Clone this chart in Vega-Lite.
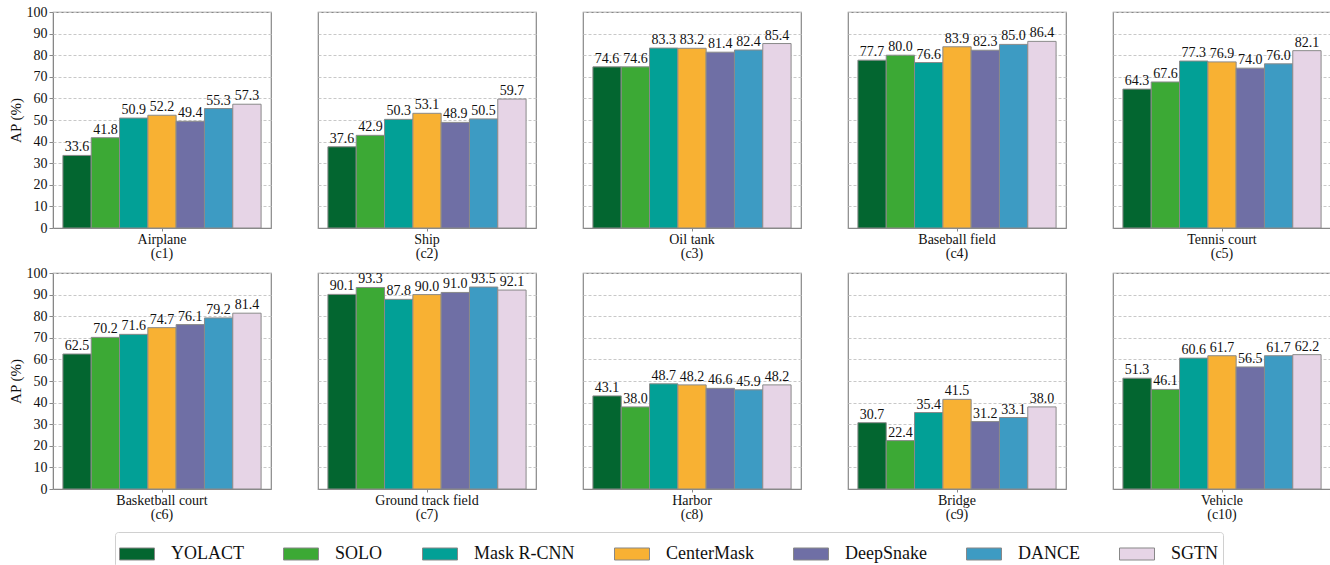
{
  "$schema": "https://vega.github.io/schema/vega-lite/v6.json",
  "padding": {"left": 8, "top": 5, "right": 2, "bottom": 0},
  "bounds": "flush",
  "spacing": {"column": 47, "row": 45},
  "columns": 5,
  "data": {
    "values": [
      {"cat": "Airplane (c1)", "method": "YOLACT", "ap": 33.6},
      {"cat": "Airplane (c1)", "method": "SOLO", "ap": 41.8},
      {"cat": "Airplane (c1)", "method": "Mask R-CNN", "ap": 50.9},
      {"cat": "Airplane (c1)", "method": "CenterMask", "ap": 52.2},
      {"cat": "Airplane (c1)", "method": "DeepSnake", "ap": 49.4},
      {"cat": "Airplane (c1)", "method": "DANCE", "ap": 55.3},
      {"cat": "Airplane (c1)", "method": "SGTN", "ap": 57.3},
      {"cat": "Ship (c2)", "method": "YOLACT", "ap": 37.6},
      {"cat": "Ship (c2)", "method": "SOLO", "ap": 42.9},
      {"cat": "Ship (c2)", "method": "Mask R-CNN", "ap": 50.3},
      {"cat": "Ship (c2)", "method": "CenterMask", "ap": 53.1},
      {"cat": "Ship (c2)", "method": "DeepSnake", "ap": 48.9},
      {"cat": "Ship (c2)", "method": "DANCE", "ap": 50.5},
      {"cat": "Ship (c2)", "method": "SGTN", "ap": 59.7},
      {"cat": "Oil tank (c3)", "method": "YOLACT", "ap": 74.6},
      {"cat": "Oil tank (c3)", "method": "SOLO", "ap": 74.6},
      {"cat": "Oil tank (c3)", "method": "Mask R-CNN", "ap": 83.3},
      {"cat": "Oil tank (c3)", "method": "CenterMask", "ap": 83.2},
      {"cat": "Oil tank (c3)", "method": "DeepSnake", "ap": 81.4},
      {"cat": "Oil tank (c3)", "method": "DANCE", "ap": 82.4},
      {"cat": "Oil tank (c3)", "method": "SGTN", "ap": 85.4},
      {"cat": "Baseball field (c4)", "method": "YOLACT", "ap": 77.7},
      {"cat": "Baseball field (c4)", "method": "SOLO", "ap": 80.0},
      {"cat": "Baseball field (c4)", "method": "Mask R-CNN", "ap": 76.6},
      {"cat": "Baseball field (c4)", "method": "CenterMask", "ap": 83.9},
      {"cat": "Baseball field (c4)", "method": "DeepSnake", "ap": 82.3},
      {"cat": "Baseball field (c4)", "method": "DANCE", "ap": 85.0},
      {"cat": "Baseball field (c4)", "method": "SGTN", "ap": 86.4},
      {"cat": "Tennis court (c5)", "method": "YOLACT", "ap": 64.3},
      {"cat": "Tennis court (c5)", "method": "SOLO", "ap": 67.6},
      {"cat": "Tennis court (c5)", "method": "Mask R-CNN", "ap": 77.3},
      {"cat": "Tennis court (c5)", "method": "CenterMask", "ap": 76.9},
      {"cat": "Tennis court (c5)", "method": "DeepSnake", "ap": 74.0},
      {"cat": "Tennis court (c5)", "method": "DANCE", "ap": 76.0},
      {"cat": "Tennis court (c5)", "method": "SGTN", "ap": 82.1},
      {"cat": "Basketball court (c6)", "method": "YOLACT", "ap": 62.5},
      {"cat": "Basketball court (c6)", "method": "SOLO", "ap": 70.2},
      {"cat": "Basketball court (c6)", "method": "Mask R-CNN", "ap": 71.6},
      {"cat": "Basketball court (c6)", "method": "CenterMask", "ap": 74.7},
      {"cat": "Basketball court (c6)", "method": "DeepSnake", "ap": 76.1},
      {"cat": "Basketball court (c6)", "method": "DANCE", "ap": 79.2},
      {"cat": "Basketball court (c6)", "method": "SGTN", "ap": 81.4},
      {"cat": "Ground track field (c7)", "method": "YOLACT", "ap": 90.1},
      {"cat": "Ground track field (c7)", "method": "SOLO", "ap": 93.3},
      {"cat": "Ground track field (c7)", "method": "Mask R-CNN", "ap": 87.8},
      {"cat": "Ground track field (c7)", "method": "CenterMask", "ap": 90.0},
      {"cat": "Ground track field (c7)", "method": "DeepSnake", "ap": 91.0},
      {"cat": "Ground track field (c7)", "method": "DANCE", "ap": 93.5},
      {"cat": "Ground track field (c7)", "method": "SGTN", "ap": 92.1},
      {"cat": "Harbor (c8)", "method": "YOLACT", "ap": 43.1},
      {"cat": "Harbor (c8)", "method": "SOLO", "ap": 38.0},
      {"cat": "Harbor (c8)", "method": "Mask R-CNN", "ap": 48.7},
      {"cat": "Harbor (c8)", "method": "CenterMask", "ap": 48.2},
      {"cat": "Harbor (c8)", "method": "DeepSnake", "ap": 46.6},
      {"cat": "Harbor (c8)", "method": "DANCE", "ap": 45.9},
      {"cat": "Harbor (c8)", "method": "SGTN", "ap": 48.2},
      {"cat": "Bridge (c9)", "method": "YOLACT", "ap": 30.7},
      {"cat": "Bridge (c9)", "method": "SOLO", "ap": 22.4},
      {"cat": "Bridge (c9)", "method": "Mask R-CNN", "ap": 35.4},
      {"cat": "Bridge (c9)", "method": "CenterMask", "ap": 41.5},
      {"cat": "Bridge (c9)", "method": "DeepSnake", "ap": 31.2},
      {"cat": "Bridge (c9)", "method": "DANCE", "ap": 33.1},
      {"cat": "Bridge (c9)", "method": "SGTN", "ap": 38.0},
      {"cat": "Vehicle (c10)", "method": "YOLACT", "ap": 51.3},
      {"cat": "Vehicle (c10)", "method": "SOLO", "ap": 46.1},
      {"cat": "Vehicle (c10)", "method": "Mask R-CNN", "ap": 60.6},
      {"cat": "Vehicle (c10)", "method": "CenterMask", "ap": 61.7},
      {"cat": "Vehicle (c10)", "method": "DeepSnake", "ap": 56.5},
      {"cat": "Vehicle (c10)", "method": "DANCE", "ap": 61.7},
      {"cat": "Vehicle (c10)", "method": "SGTN", "ap": 62.2}
    ]
  },
  "facet": {
    "field": "cat",
    "type": "nominal",
    "title": null,
    "sort": ["Airplane (c1)", "Ship (c2)", "Oil tank (c3)", "Baseball field (c4)", "Tennis court (c5)", "Basketball court (c6)", "Ground track field (c7)", "Harbor (c8)", "Bridge (c9)", "Vehicle (c10)"],
    "header": {"labels": false, "labelExpr": "''", "labelFontSize": 1, "labelPadding": 0, "title": null}
  },
  "spec": {
    "width": 218,
    "height": 216,
    "encoding": {
      "x": {
        "field": "cat",
        "type": "nominal",
        "title": null,
        "scale": {"paddingInner": 0, "paddingOuter": 0.05},
        "axis": {
          "labelAngle": 0,
          "labelExpr": "[slice(datum.value, 0, indexof(datum.value, ' (')), slice(datum.value, indexof(datum.value, ' (') + 1)]",
          "labelLineHeight": 14,
          "labelPadding": 1,
          "tickSize": 3
        }
      },
      "xOffset": {
        "field": "method",
        "type": "nominal",
        "sort": ["YOLACT", "SOLO", "Mask R-CNN", "CenterMask", "DeepSnake", "DANCE", "SGTN"],
        "scale": {"paddingInner": 0, "paddingOuter": 0}
      },
      "y": {
        "field": "ap",
        "type": "quantitative",
        "title": "AP (%)",
        "scale": {"domain": [0, 100], "nice": false},
        "axis": {
          "values": [0, 10, 20, 30, 40, 50, 60, 70, 80, 90, 100],
          "grid": true,
          "gridDash": [3, 2],
          "gridColor": "#c8c8c8",
          "tickSize": 4,
          "labelPadding": 2,
          "titlePadding": 3
        }
      }
    },
    "layer": [
      {
        "mark": {"type": "bar", "stroke": "#8a8a8a", "strokeWidth": 1},
        "encoding": {
          "color": {
            "field": "method",
            "type": "nominal",
            "sort": ["YOLACT", "SOLO", "Mask R-CNN", "CenterMask", "DeepSnake", "DANCE", "SGTN"],
            "scale": {
              "domain": ["YOLACT", "SOLO", "Mask R-CNN", "CenterMask", "DeepSnake", "DANCE", "SGTN"],
              "range": ["#036630", "#3ca935", "#02a096", "#f8b133", "#6f6fa5", "#3d9bc3", "#e6d4e6"]
            },
            "legend": {"title": null}
          }
        }
      },
      {
        "mark": {"type": "text", "baseline": "bottom", "dy": -1, "fontSize": 14, "color": "#111"},
        "encoding": {
          "text": {"field": "ap", "type": "quantitative", "format": ".1f"}
        }
      }
    ]
  },
  "resolve": {"scale": {"x": "independent", "xOffset": "independent"}},
  "config": {
    "font": "Liberation Serif",
    "header": {"labels": false, "title": null},
    "view": {"stroke": "#888888", "strokeWidth": 1.2},
    "axis": {
      "labelFont": "Liberation Serif",
      "titleFont": "Liberation Serif",
      "labelFontSize": 14,
      "titleFontSize": 15,
      "titleFontWeight": "normal",
      "labelColor": "#111",
      "titleColor": "#111",
      "domainColor": "#888888",
      "tickColor": "#888888"
    },
    "legend": {
      "orient": "none",
      "legendX": 62,
      "legendY": 520,
      "direction": "horizontal",
      "symbolType": "M-1,-0.343H1V0.343H-1Z",
      "symbolSize": 1225,
      "symbolStrokeColor": "#888888",
      "symbolStrokeWidth": 1,
      "symbolOpacity": 1,
      "labelFont": "Liberation Serif",
      "labelFontSize": 18,
      "labelColor": "#111",
      "labelOffset": 16,
      "columnPadding": 37,
      "padding": 4,
      "strokeColor": "#d0d0d0",
      "fillColor": "white",
      "cornerRadius": 3
    }
  }
}
